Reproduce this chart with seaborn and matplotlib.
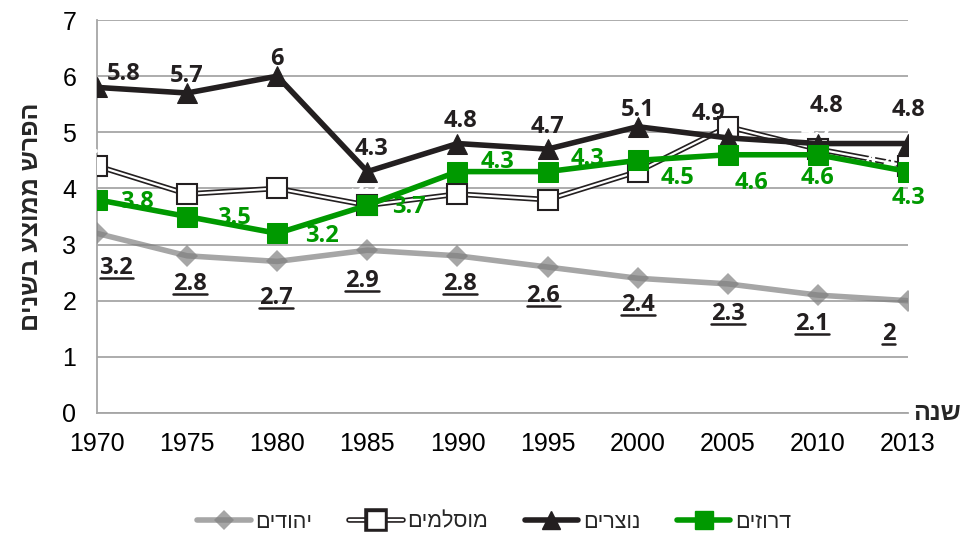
import pandas as pd
import matplotlib
matplotlib.use('Agg')
import matplotlib.pyplot as plt
import matplotlib.patheffects as pe
from matplotlib.lines import Line2D
import seaborn as sns

# data
years = ['1970', '1975', '1980', '1985', '1990', '1995', '2000', '2005', '2010', '2013']
jews = [3.2, 2.8, 2.7, 2.9, 2.8, 2.6, 2.4, 2.3, 2.1, 2.0]
muslims = [4.4, 3.9, 4.0, 3.7, 3.9, 3.8, 4.3, 5.1, 4.7, 4.4]
christians = [5.8, 5.7, 6.0, 4.3, 4.8, 4.7, 5.1, 4.9, 4.8, 4.8]
druze = [3.8, 3.5, 3.2, 3.7, 4.3, 4.3, 4.5, 4.6, 4.6, 4.3]

jews_lbl = ['3.2', '2.8', '2.7', '2.9', '2.8', '2.6', '2.4', '2.3', '2.1', '2']
muslims_lbl = ['4.4', '3.9', '4', '3.7', '3.9', '3.8', '4.3', '5.1', '4.7', '4.4']
christians_lbl = ['5.8', '5.7', '6', '4.3', '4.8', '4.7', '5.1', '4.9', '4.8', '4.8']
druze_lbl = ['3.8', '3.5', '3.2', '3.7', '4.3', '4.3', '4.5', '4.6', '4.6', '4.3']

df = pd.DataFrame({'year': years, 'jews': jews, 'muslims': muslims,
                   'christians': christians, 'druze': druze})


def rtl(s):
    # matplotlib has no bidi support, so flip Hebrew strings for display
    return s[::-1]


sns.set_style('white')
plt.rcParams['font.family'] = ['Liberation Sans', 'DejaVu Sans']

GRAY = '#808080'
BLACK = '#231f20'
GREEN = '#009900'
GRID = '#a6a6a6'

fig = plt.figure(figsize=(9.65, 5.34), dpi=100)
ax = fig.add_axes([0.1005, 0.2266, 0.8405, 0.7359])

# Jews (semi-transparent gray, marker looks darker where it overlaps the line)
sns.lineplot(data=df, x='year', y='jews', ax=ax, color=GRAY, linewidth=4, alpha=0.7,
             marker='D', markersize=11, markerfacecolor=GRAY,
             markeredgecolor=GRAY, markeredgewidth=0, zorder=3, sort=False)

# Muslims: double line = thick dark line with a thin white line on top
sns.lineplot(data=df, x='year', y='muslims', ax=ax, color=BLACK, linewidth=4,
             zorder=4, sort=False)
sns.lineplot(data=df, x='year', y='muslims', ax=ax, color='white', linewidth=1.6,
             marker='s', markersize=15, markerfacecolor='white',
             markeredgecolor=BLACK, markeredgewidth=1.5, zorder=4.1, sort=False)

# Christians
sns.lineplot(data=df, x='year', y='christians', ax=ax, color=BLACK, linewidth=4,
             marker='^', markersize=14, markeredgecolor=BLACK, zorder=5, sort=False)

# Druze
sns.lineplot(data=df, x='year', y='druze', ax=ax, color=GREEN, linewidth=4,
             marker='s', markersize=15, markeredgecolor=GREEN, zorder=6, sort=False)

ax.set_ylim(0, 7)
ax.set_xlim(0, 9)
ax.set_yticks(range(0, 8))
ax.yaxis.grid(True, color=GRID, linewidth=1.3)
ax.xaxis.grid(False)
for s in ['top', 'right']:
    ax.spines[s].set_visible(False)
for s in ['left', 'bottom']:
    ax.spines[s].set_color(GRID)
    ax.spines[s].set_linewidth(1.3)
ax.tick_params(axis='both', labelsize=18, colors=GRID, labelcolor='black',
               length=5, width=1.3)
ax.tick_params(axis='y', pad=10)
ax.tick_params(axis='x', pad=9)
ax.set_xlabel('')
ax.set_ylabel(rtl('הפרש ממוצע בשנים'), fontsize=18, fontweight='bold', labelpad=14)
ax.text(1.006, 0.0, rtl('שנה'), transform=ax.transAxes, fontsize=18,
        fontweight='bold', ha='left', va='center')

lab_font = ['Open Sans', 'DejaVu Sans']
LFS = 17

# data labels (offsets in points)
mus_off = [(0, 14), (0, 14), (0, 14), (0, 14), (0, 14), (0, 14), (0, 14),
           (26, 4), (0, 14), (-20, 2)]
chr_off = [(19, 10), (0, 12), (0, 12), (3, 16), (2, 16), (0, 16), (0, 12),
           (-14, 17), (6, 27), (0, 24)]
dru_off = [(29, -2), (34, -1), (32, -2), (30, -1), (29, 7), (29, 9), (29, -13),
           (17, -20), (0, -17), (0, -19)]
jew_off = [(14, -25), (2, -20), (-1, -26), (-4, -22), (2, -20), (-3, -21),
           (0, -19), (0, -22), (-4, -21), (-14, -24)]

for i in range(len(years)):
    ax.annotate(muslims_lbl[i], (i, muslims[i]), xytext=mus_off[i], textcoords='offset points',
                ha='center', va='center', color='white', fontsize=LFS, fontweight='bold',
                family=lab_font, zorder=4.5)
    ax.annotate(christians_lbl[i], (i, christians[i]), xytext=chr_off[i], textcoords='offset points',
                ha='center', va='center', color=BLACK, fontsize=LFS, fontweight='bold',
                family=lab_font, zorder=7)
    ax.annotate(druze_lbl[i], (i, druze[i]), xytext=dru_off[i], textcoords='offset points',
                ha='center', va='center', color=GREEN, fontsize=LFS, fontweight='bold',
                family=lab_font, zorder=7)

jew_texts = []
for i in range(len(years)):
    t = ax.annotate(jews_lbl[i], (i, jews[i]), xytext=jew_off[i], textcoords='offset points',
                    ha='center', va='center', color=BLACK, fontsize=LFS, fontweight='bold',
                    family=lab_font, zorder=7)
    jew_texts.append(t)

# legend
handles = [
    Line2D([], [], color=GRAY, lw=4, alpha=0.7, marker='D', markersize=10,
           markerfacecolor=GRAY, markeredgewidth=0),
    Line2D([], [], color='white', lw=1.6, marker='s', markersize=13,
           markerfacecolor='white', markeredgecolor=BLACK,
           path_effects=[pe.Stroke(linewidth=4, foreground=BLACK), pe.Normal()]),
    Line2D([], [], color=BLACK, lw=4, marker='^', markersize=13),
    Line2D([], [], color=GREEN, lw=4, marker='s', markersize=13),
]
names = [rtl('יהודים'), rtl('מוסלמים'), rtl('נוצרים'), rtl('דרוזים')]
fig.legend(handles, names, loc='center', bbox_to_anchor=(0.512, 0.022), ncol=4,
           frameon=False, fontsize=15.5, handlelength=2.5, handletextpad=0.2,
           columnspacing=1.7)

# underline the Jewish series labels
fig.canvas.draw()
inv = fig.transFigure.inverted()
for t in jew_texts:
    bb = t.get_window_extent()
    (x0, y0), (x1, y1) = inv.transform([(bb.x0, bb.y0 + 2), (bb.x1, bb.y0 + 2)])
    fig.add_artist(Line2D([x0, x1], [y0, y1], color=BLACK, lw=1.8))

fig.savefig('out.png', dpi=100)
